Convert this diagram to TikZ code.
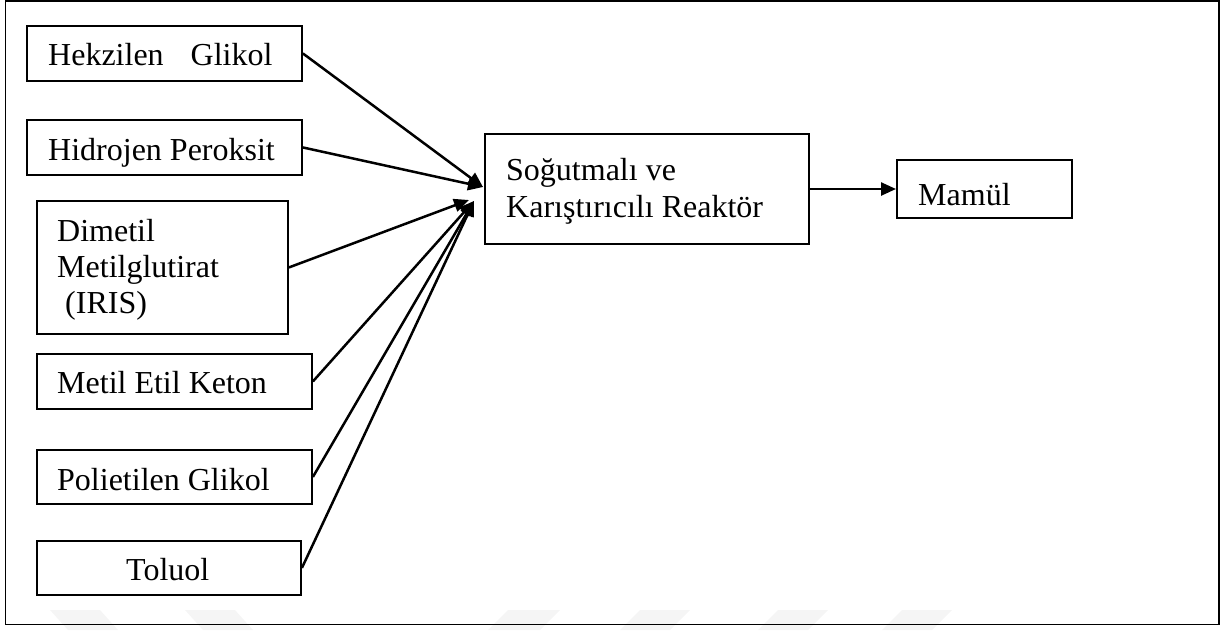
\documentclass[tikz,border=0pt]{standalone}
\usepackage{fontspec}
\setmainfont{Liberation Serif}
\usetikzlibrary{arrows.meta}

\tikzset{
  box/.style={draw, line width=1.9pt, inner sep=0pt, anchor=north west},
  lbl/.style={anchor=base west, inner sep=0pt, font=\fontsize{32}{37}\selectfont},
  feed/.style={line width=2.5pt, -{Triangle[length=15pt,width=13pt]}},
  stripe/.style={fill=black!4, draw=none}
}

\begin{document}
\begin{tikzpicture}[x=1pt,y=-1pt]
\useasboundingbox (0,0) rectangle (1231,630);

% faint stripes along the lower edge
\fill[stripe] (50,610) -- (100,610) -- (118,630) -- (68,630) -- cycle;
\fill[stripe] (185,610) -- (235,610) -- (253,630) -- (203,630) -- cycle;
\fill[stripe] (508,610) -- (560,610) -- (540,630) -- (488,630) -- cycle;
\fill[stripe] (640,610) -- (690,610) -- (670,630) -- (620,630) -- cycle;
\fill[stripe] (778,610) -- (828,610) -- (808,630) -- (758,630) -- cycle;
\fill[stripe] (902,610) -- (952,610) -- (932,630) -- (882,630) -- cycle;

% outer frame
\draw[line width=1.9pt] (5.5,1) rectangle (1219,624.5);

% input boxes
\node[box, minimum width=275pt, minimum height=55pt] (hek) at (26,25) {};
\node[lbl] (hekT) at (48,65) {Hekzilen\hspace{27pt}Glikol};

\node[box, minimum width=275pt, minimum height=55pt] (hid) at (26,119) {};
\node[lbl] (hidT) at (48,160) {Hidrojen Peroksit};

\node[box, minimum width=251pt, minimum height=133pt] (dim) at (36,200) {};
\node[lbl] (dimA) at (57,241) {Dimetil};
\node[lbl] (dimB) at (57,277) {Metilglutirat};
\node[lbl] (dimC) at (65,313) {(IRIS)};

\node[box, minimum width=275pt, minimum height=55pt] (met) at (36,353) {};
\node[lbl] (metT) at (57,393) {Metil Etil Keton};

\node[box, minimum width=275pt, minimum height=54pt] (pol) at (36,449) {};
\node[lbl] (polT) at (57,490) {Polietilen Glikol};

\node[box, minimum width=264pt, minimum height=54pt] (tol) at (36,540) {};
\node[lbl] (tolT) at (126,580) {Toluol};

% reactor and product
\node[box, minimum width=324pt, minimum height=110pt] (rea) at (484,133) {};
\node[lbl] (reaA) at (506,180) {Soğutmalı ve};
\node[lbl] (reaB) at (506,217) {Karıştırıcılı Reaktör};

\node[box, minimum width=175pt, minimum height=58pt] (mam) at (896,159) {};
\node[lbl] (mamT) at (918,205) {Mamül};

% meeting points on the reactor's left side
\coordinate (inA) at (483,187);
\coordinate (inB) at (469,200);
\coordinate (inC) at (474,201);

% feed lines
\draw[feed] (hek.east) -- (inA);
\draw[feed] (hid.east) -- (inA);
\draw[feed] (dim.east) -- (inB);
\draw[feed] (met.east) -- (inC);
\draw[feed] (pol.east) -- (inC);
\draw[feed] (tol.east) -- (inC);

% product line
\draw[feed] (rea.east |- 0,189) -- (mam.west |- 0,189);
\end{tikzpicture}
\end{document}
